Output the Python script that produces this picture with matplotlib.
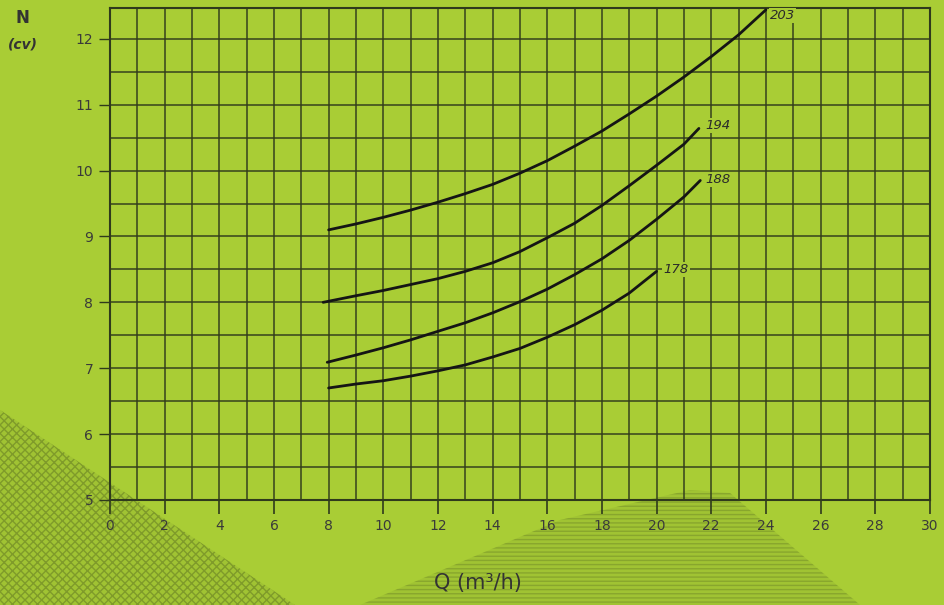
import matplotlib
matplotlib.use("Agg")
import matplotlib.pyplot as plt
import matplotlib.patches as patches
import numpy as np

# courbes de puissance N (cv) en fonction du debit Q (m3/h), par diametre de roue
q_203 = [8, 9, 10, 11, 12, 13, 14, 15, 16, 17, 18, 19, 20, 21, 22, 23, 24]
n_203 = [9.10, 9.19, 9.29, 9.40, 9.52, 9.65, 9.79, 9.96, 10.15, 10.37,
         10.60, 10.86, 11.13, 11.42, 11.73, 12.06, 12.44]

q_194 = [7.8, 9, 10, 11, 12, 13, 14, 15, 16, 17, 18, 19, 20, 21, 21.55]
n_194 = [8.0, 8.10, 8.18, 8.27, 8.36, 8.47, 8.60, 8.77, 8.98, 9.20,
         9.47, 9.77, 10.08, 10.40, 10.64]

q_188 = [7.95, 9, 10, 11, 12, 13, 14, 15, 16, 17, 18, 19, 20, 21, 21.6]
n_188 = [7.09, 7.20, 7.31, 7.43, 7.56, 7.69, 7.84, 8.01, 8.20, 8.42,
         8.66, 8.94, 9.26, 9.60, 9.85]

q_178 = [8, 9, 10, 11, 12, 13, 14, 15, 16, 17, 18, 19, 20]
n_178 = [6.70, 6.76, 6.81, 6.88, 6.96, 7.05, 7.17, 7.30, 7.47, 7.66,
         7.88, 8.14, 8.47]

curve_labels = ["203", "194", "188", "178"]
label_pos = [(24.15, 12.35), (21.8, 10.69), (21.8, 9.86), (20.25, 8.5)]
x_ticks = list(range(0, 31, 2))
y_ticks = list(range(5, 13))

BG = "#a9cd35"
GRID = "#2f3a1c"

fig = plt.figure(figsize=(9.44, 6.05), dpi=100, facecolor=BG)

# motifs decoratifs en bas de la page
deco = fig.add_axes([0, 0, 1, 1], zorder=0)
deco.set_xlim(0, 944)
deco.set_ylim(605, 0)
deco.axis("off")
left_tri = patches.Polygon([(0, 410), (295, 605), (0, 605)], closed=True,
                           facecolor="#a0c333", edgecolor="#7f9b2a",
                           hatch="xxxx", linewidth=0)
hill = patches.Polygon([(360, 605), (560, 520), (690, 490), (730, 493),
                        (860, 605)], closed=True,
                       facecolor="#a0c333", edgecolor="#88a62d",
                       hatch="----", linewidth=0)
deco.add_patch(left_tri)
deco.add_patch(hill)

ax = fig.add_axes([0.1165, 0.1736, 0.8685, 0.8134], zorder=1)
ax.set_facecolor("none")
ax.set_xlim(0, 30)
ax.set_ylim(5, 12.47)

# grille : 1 m3/h en x, 0.5 cv en y
for xv in np.arange(0, 31, 1):
    ax.axvline(xv, color=GRID, lw=1.3, alpha=0.8, zorder=1)
for yv in np.arange(5, 12.6, 0.5):
    ax.axhline(yv, color=GRID, lw=1.3, alpha=0.8, zorder=1)
for s in ax.spines.values():
    s.set_color(GRID)
    s.set_linewidth(1.5)

series = [(q_203, n_203), (q_194, n_194), (q_188, n_188), (q_178, n_178)]
for (q, n), lab, (lx, ly) in zip(series, curve_labels, label_pos):
    ax.plot(q, n, color="#151515", lw=2.0, zorder=3, solid_capstyle="round",
            solid_joinstyle="round")
    ax.text(lx, ly, lab, fontsize=9.5, style="italic", color="#2a2a2a",
            ha="left", va="center", zorder=4,
            bbox=dict(facecolor=BG, edgecolor="none", pad=0.8))

ax.set_xticks(x_ticks)
ax.set_yticks(y_ticks)
ax.tick_params(axis="x", direction="out", length=10, width=1.2,
               colors=GRID, labelcolor="#3a3a3a", labelsize=10, pad=4)
ax.tick_params(axis="y", direction="out", length=8, width=1.0,
               colors=GRID, labelcolor="#3a3a3a", labelsize=10, pad=4)

fig.text(0.024, 0.97, "N", fontsize=12, fontweight="bold", color="#333333",
         ha="center", va="center")
fig.text(0.024, 0.927, "(cv)", fontsize=10, fontweight="bold", style="italic",
         color="#333333", ha="center", va="center")
fig.text(0.506, 0.036, "Q (m³/h)", fontsize=15, color="#333333",
         ha="center", va="center")

fig.savefig("out.png", dpi=100, facecolor=BG)
